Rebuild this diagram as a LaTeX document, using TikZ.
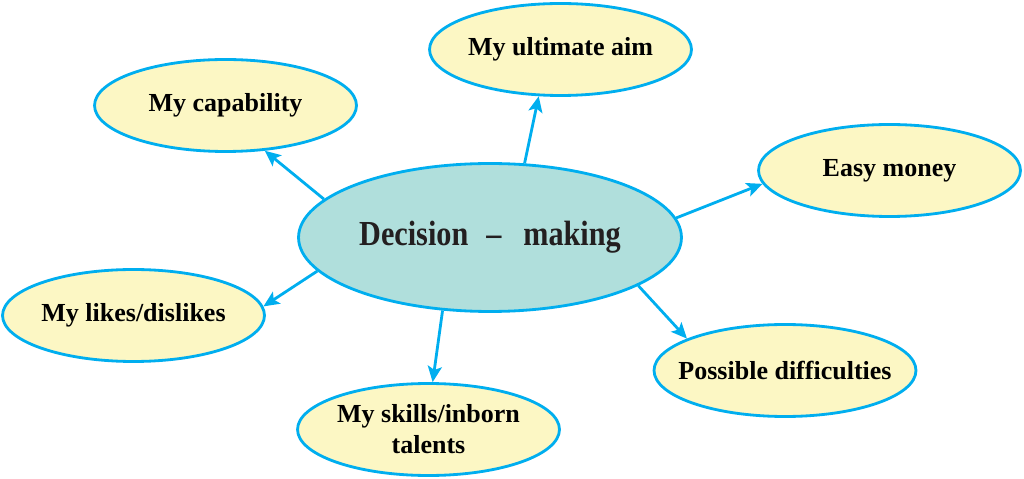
\documentclass[tikz,border=0pt]{standalone}
\usepackage{fontspec}
\setmainfont{Liberation Serif}
\newfontfamily\narrowfont[FakeStretch=0.86]{Liberation Serif}
\usetikzlibrary{shapes.geometric,arrows.meta}
\definecolor{lineblue}{HTML}{00AEEF}
\definecolor{leafyellow}{HTML}{FCF7C4}
\definecolor{hubteal}{HTML}{B0DFDC}
\definecolor{inkdark}{HTML}{231F20}
\begin{document}
\begin{tikzpicture}[x=0.02cm,y=-0.02cm,
	leaf/.style={ellipse,draw=lineblue,line width=1.6pt,fill=leafyellow,inner xsep=-1cm,inner ysep=0pt,
		minimum width=5.24cm,minimum height=1.84cm,align=center,
		font=\fontsize{14.8}{17.6}\selectfont\bfseries},
	hub/.style={ellipse,draw=lineblue,line width=1.6pt,fill=hubteal,inner sep=0pt,
		minimum width=7.66cm,minimum height=2.96cm,text=inkdark,
		font=\narrowfont\fontsize{20}{24}\selectfont\bfseries},
	link/.style={draw=lineblue,line width=1.6pt,-{Stealth[length=9pt,width=8pt,inset=2pt]}}]
	\useasboundingbox (0,0) rectangle (1024,479);

	\node (dm) at (490,237.5) [hub] {Decision\hspace{0.36cm}\textendash\hspace{0.44cm}making};

	\node (aim) at (560.5,49.5) [leaf] {My ultimate aim};
	\node (cap) at (225.5,105.5) [leaf] {My capability};
	\node (easy) at (889.5,170.5) [leaf] {Easy money};
	\node (likes) at (133.5,315.5) [leaf] {My likes/dislikes};
	\node (skills) at (428.5,429.5) [leaf] {My skills/inborn\\talents};
	\node (diff) at (785,370.5) [leaf] {Possible difficulties};

	\draw [link] (dm.65.5) -- (aim.245);
	\draw [link] (dm.167.7) -- (cap.311.8);
	\draw [link] (dm.6.9) -- (easy.186.5);
	\draw [link] (dm.191.6) -- (likes.4.7);
	\draw [link] (dm.237.8) -- (skills.85.6);
	\draw [link] (dm.342.8) -- (diff.162);
\end{tikzpicture}
\end{document}
